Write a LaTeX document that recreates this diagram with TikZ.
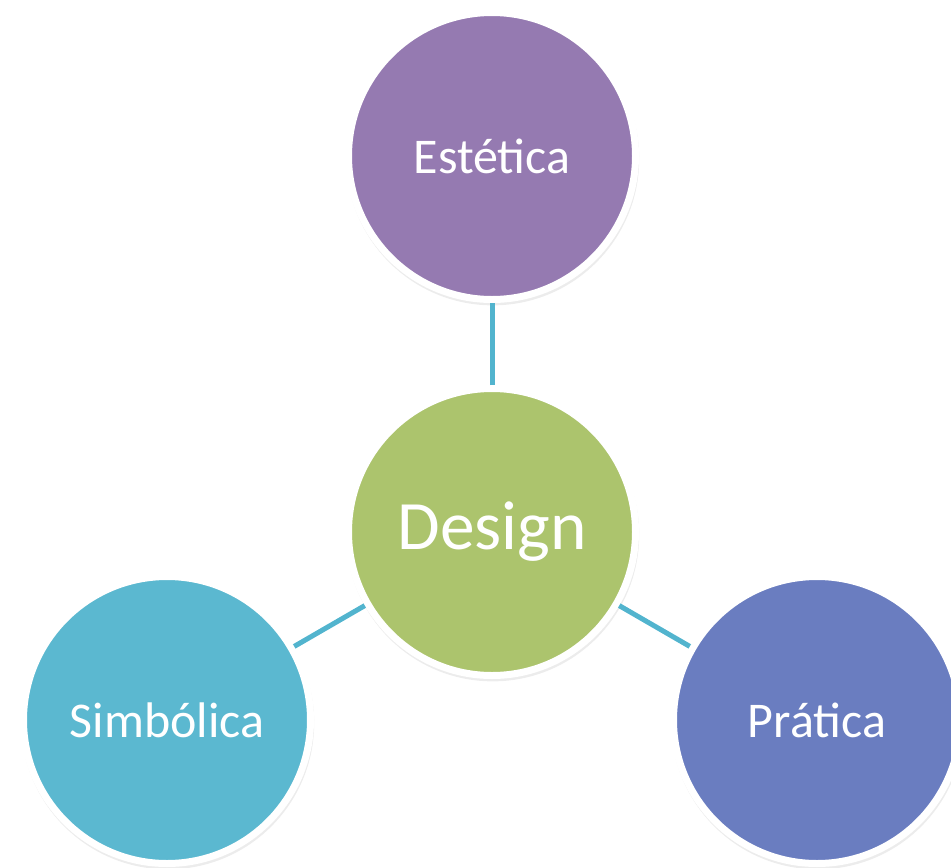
\documentclass[tikz,border=0pt]{standalone}
\usepackage{fontspec}
\setmainfont{Carlito}
\usepackage{tikz}
\usetikzlibrary{shadows}
\usepackage{xcolor}

\definecolor{roxo}{HTML}{957AB1}
\definecolor{verde}{HTML}{ACC46D}
\definecolor{ciano}{HTML}{5BB8D0}
\definecolor{anil}{HTML}{6A7DC0}
\definecolor{elo}{HTML}{52B4CE}

\begin{document}
\begin{tikzpicture}[x=0.75pt, y=-0.75pt,
    bola/.style={circle, draw=white, line width=5.25pt, minimum size=215.25pt, inner sep=0pt, text=white,
      font=\fontsize{37.5}{40}\selectfont,
      drop shadow={opacity=0.15, shadow xshift=0.6pt, shadow yshift=-2.2pt, shadow scale=1.02}},
    elo/.style={draw=elo, line width=3.75pt}]
  \useasboundingbox (0, 0) rectangle (951, 868);

  \node[bola, fill=roxo] (estetica) at (492, 156) {Estética};
  \node[bola, fill=verde, font=\fontsize{52}{56}\selectfont] (design) at (492, 532) {Design};
  \node[bola, fill=ciano] (simbolica) at (167, 720) {Simbólica};
  \node[bola, fill=anil] (pratica) at (817, 720) {Prática};

  \draw [elo] (design) -- (estetica);
  \draw [elo] (design) -- (simbolica);
  \draw [elo] (design) -- (pratica);
\end{tikzpicture}
\end{document}
